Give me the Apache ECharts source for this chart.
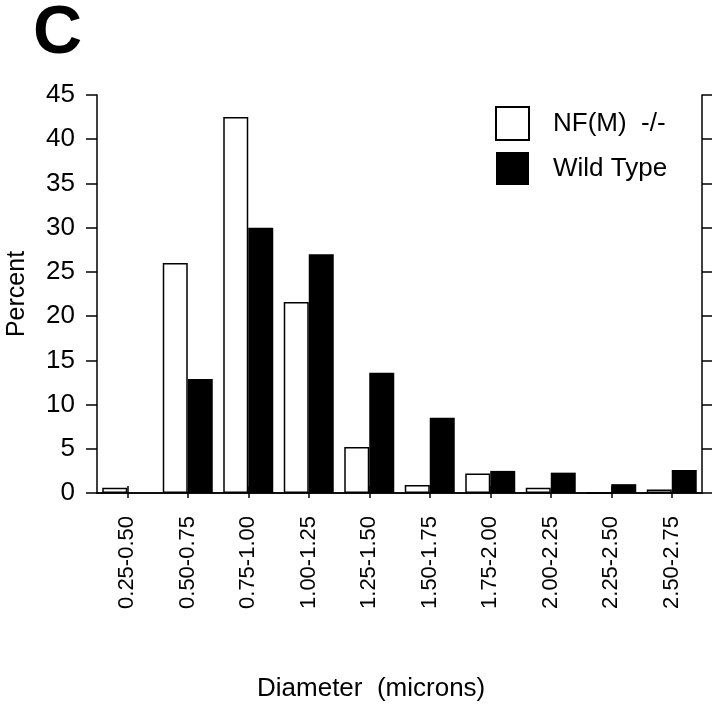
<!DOCTYPE html>
<html>
<head>
<meta charset="utf-8">
<script src="https://cdn.jsdelivr.net/npm/echarts@6/dist/echarts.min.js"></script>
<style>html,body{margin:0;padding:0;background:#fff}#c{width:720px;height:710px}</style>
</head>
<body>
<div id="c"></div>
<script>
const categories = ['0.25-0.50','0.50-0.75','0.75-1.00','1.00-1.25','1.25-1.50','1.50-1.75','1.75-2.00','2.00-2.25','2.25-2.50','2.50-2.75'];
const nfmValues = [0.6, 26.0, 42.5, 21.6, 5.2, 0.9, 2.2, 0.6, 0, 0.4];
const wildTypeValues = [0, 12.9, 30.0, 27.0, 13.6, 8.5, 2.5, 2.3, 1.0, 2.6];
const seriesNames = ['NF(M)  -/-', 'Wild Type'];
const yMin = 0, yMax = 45, yInterval = 5;

const FONT = 'Liberation Sans, Arial, Helvetica, sans-serif';
const chart = echarts.init(document.getElementById('c'), null, {renderer: 'canvas'});
const axisLine = {show: true, lineStyle: {color: '#000', width: 1.5}};
chart.setOption({
  animation: false,
  backgroundColor: '#fff',
  title: [
    {text: 'C', left: 28, top: -5, textStyle: {fontFamily: FONT, fontSize: 68, fontWeight: 'bold', color: '#000'}},
    {text: 'Diameter  (microns)', left: 252, top: 671, textStyle: {fontFamily: FONT, fontSize: 26, fontWeight: 'normal', color: '#000'}}
  ],
  legend: {
    left: 495, top: 106, orient: 'vertical', padding: 0,
    itemWidth: 33, itemHeight: 33, itemGap: 11,
    icon: 'rect',
    textStyle: {fontFamily: FONT, fontSize: 26, color: '#000', padding: [0, 0, 0, 19]},
    data: seriesNames
  },
  grid: {left: 97, right: 18, top: 95, bottom: 217, containLabel: false, outerBoundsMode: 'none'},
  xAxis: [
    {
      type: 'category', data: categories, position: 'bottom',
      axisLine: axisLine,
      axisTick: {show: true, alignWithLabel: true, length: 5, lineStyle: {color: '#000', width: 1.5}},
      axisLabel: {rotate: 90, margin: 23, fontFamily: FONT, fontSize: 22, color: '#000'},
      splitLine: {show: false}
    },
    {
      type: 'category', data: categories, position: 'top',
      axisLine: axisLine,
      axisTick: {show: true, alignWithLabel: true, length: 7, lineStyle: {color: '#000', width: 1.5}},
      axisLabel: {show: false},
      splitLine: {show: false}
    }
  ],
  yAxis: [
    {
      type: 'value', min: yMin, max: yMax, interval: yInterval, position: 'left',
      name: 'Percent', nameLocation: 'middle', nameGap: 67, nameRotate: 90,
      nameTextStyle: {fontFamily: FONT, fontSize: 25, color: '#000'},
      axisLine: axisLine,
      axisTick: {show: true, length: 11, lineStyle: {color: '#000', width: 1.5}},
      axisLabel: {margin: 22, fontFamily: FONT, fontSize: 26, color: '#000'},
      splitLine: {show: false}
    },
    {
      type: 'value', min: yMin, max: yMax, interval: yInterval, position: 'right',
      axisLine: axisLine,
      axisTick: {show: true, length: 10, lineStyle: {color: '#000', width: 1.5}},
      axisLabel: {show: false},
      splitLine: {show: false}
    }
  ],
  series: [
    {
      name: seriesNames[0], type: 'bar', data: nfmValues,
      barWidth: 25, barGap: '0%',
      itemStyle: {color: '#fff', borderColor: '#000', borderWidth: 1.5}
    },
    {
      name: seriesNames[1], type: 'bar', data: wildTypeValues,
      barWidth: 25, barGap: '0%',
      itemStyle: {color: '#000', borderWidth: 0}
    }
  ]
});
</script>
</body>
</html>
